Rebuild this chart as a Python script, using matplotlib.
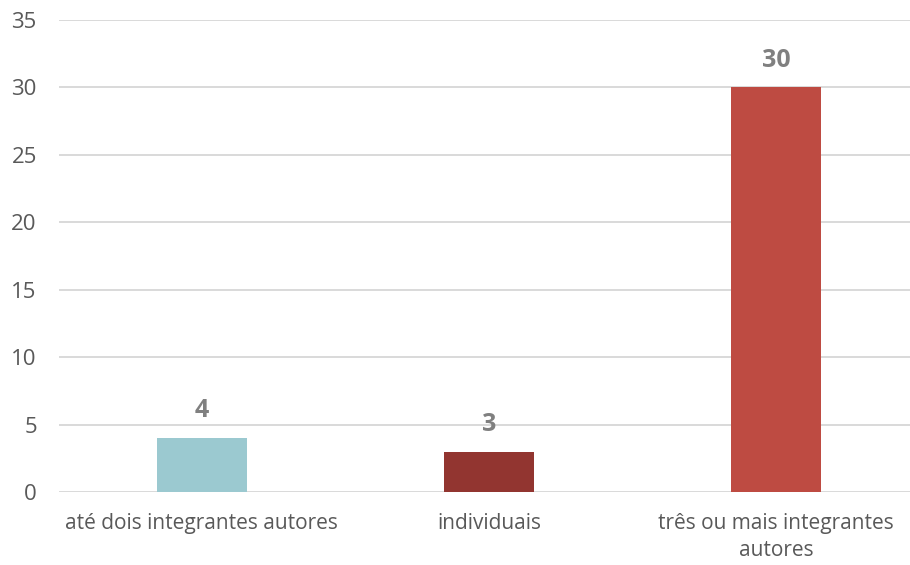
import matplotlib
matplotlib.use("Agg")
import matplotlib.pyplot as plt

categories = ["até dois integrantes autores", "individuais", "três ou mais integrantes\nautores"]
values = [4, 3, 30]
colors = ["#9BC9D0", "#923530", "#BE4B42"]
yticks = [0, 5, 10, 15, 20, 25, 30, 35]

plt.rcParams['font.family'] = ['Open Sans', 'DejaVu Sans']

fig = plt.figure(figsize=(9.10, 5.65), dpi=100)
ax = fig.add_axes([59/910, 73/565, 1 - 59/910, 472/565])

x = list(range(len(categories)))
bars = ax.bar(x, values, width=0.315, color=colors, zorder=3)
for xi, v in zip(x, values):
    ax.annotate(str(v), (xi, v), xytext=(0, 19.5), textcoords="offset points",
                ha="center", va="center", fontsize=18, fontweight="bold", color="#808080")

ax.set_ylim(0, 35)
ax.set_xlim(-0.498, 2.467)
ax.set_yticks(yticks)
ax.set_xticks(x)
ax.set_xticklabels(categories, fontsize=15, color="#595959", linespacing=1.4)
ax.tick_params(axis="y", labelsize=16, colors="#595959", length=0, pad=16)
ax.tick_params(axis="x", length=0, pad=15)
ax.grid(axis="y", color="#D9D9D9", linewidth=1.4, zorder=0)
for s in ax.spines.values():
    s.set_visible(False)

fig.savefig("out.png", dpi=100)
